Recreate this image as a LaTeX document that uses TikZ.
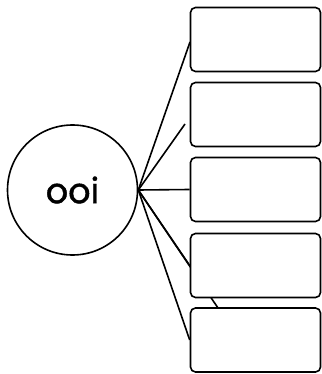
\documentclass[tikz,border=0pt]{standalone}
\usepackage{fontspec}
\setmainfont{Poppins}
\newfontfamily\labelfont[FakeBold=1.2]{Poppins}
\usetikzlibrary{backgrounds}
\begin{document}
\begin{tikzpicture}[x=1pt,y=-1pt,line width=1.6pt,
  box/.style={draw,fill=white,rounded corners=5pt,minimum width=130pt,minimum height=64pt,inner sep=0pt},
  link/.style={line width=1.6pt}]
\useasboundingbox (0,0) rectangle (321,374);
\node[draw,circle,minimum size=130pt,inner sep=0pt,font=\labelfont\fontsize{35}{40}\selectfont] (ooi) at (72.5,190) {ooi};
\node[box] (b1) at (255.5,39.5) {};
\node[box] (b2) at (255.5,114.5) {};
\node[box] (b3) at (255.5,189.5) {};
\node[box] (b4) at (255.5,265.5) {};
\node[box] (b5) at (255.5,340) {};
\coordinate (e1) at (190,42);
\coordinate (e2) at (185,124);
\coordinate (e5) at (218,308);
\begin{scope}[on background layer]
\draw[link] (ooi.east)--(e1);
\draw[link] (ooi.east)--(e2);
\draw[link] (ooi.east)--(b3.west);
\draw[link] (ooi.east)--(b4.west);
\draw[link] (ooi.east)--(e5); %behind b4
\draw[link] (ooi.east)--(b5.west);
\end{scope}
\end{tikzpicture}
\end{document}
